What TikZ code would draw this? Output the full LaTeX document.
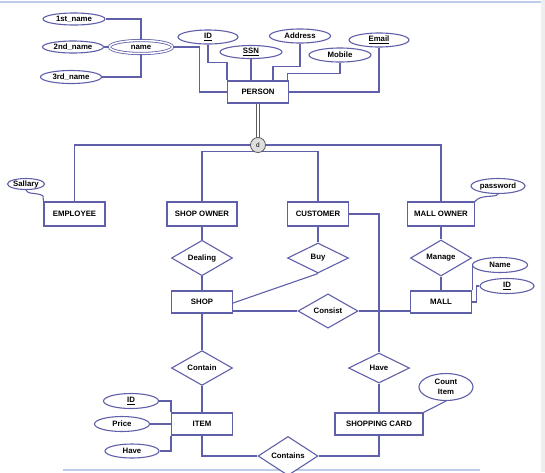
\documentclass[tikz,border=0pt]{standalone}
\usepackage{fontspec}
\setmainfont{Liberation Sans}
\usetikzlibrary{shapes.geometric}
\definecolor{lc}{RGB}{96,96,170}
\definecolor{frameblue}{RGB}{190,204,236}
\definecolor{bandgray}{RGB}{238,238,238}
\definecolor{dgray}{RGB}{90,90,90}
\definecolor{cfill}{RGB}{222,222,222}
\tikzset{
  every node/.style={font=\fontsize{7.8}{9}\selectfont\bfseries, text=black},
  ln/.style={draw=lc, line width=1.1pt},
  gln/.style={draw=dgray, line width=0.7pt},
  ent/.style={rectangle, draw=lc, fill=white, line width=1.1pt, inner sep=0pt, minimum height=22pt},
  attr/.style={ellipse, draw=lc, fill=white, line width=1.1pt, inner sep=0pt, minimum height=14pt},
  rel/.style={diamond, draw=lc, fill=white, line width=1.1pt, inner sep=0pt, minimum width=61pt, minimum height=30pt},
  dcirc/.style={circle, draw=dgray, fill=cfill, line width=0.8pt, inner sep=0pt, minimum size=15pt, font=\fontsize{6.5}{7}\selectfont},
}
\begin{document}
\begin{tikzpicture}[x=1pt,y=-1pt]
\useasboundingbox (0,0) rectangle (545,472);
\fill[white] (0,0) rectangle (545,472);
\fill[bandgray] (541,0) rectangle (545,472);
\draw[frameblue, line width=1.2pt] (0,2) -- (541,2);
\draw[frameblue, line width=1.5pt] (63,470) -- (480,470);

% PERSON and its attributes
\node[attr, minimum width=62pt, minimum height=12pt] (n1) at (74,19) {1st\_name};
\node[attr, minimum width=61pt, minimum height=12pt] (n2) at (73,47) {2nd\_name};
\node[attr, minimum width=61pt, minimum height=13pt] (n3) at (71,77) {3rd\_name};
\node[attr, minimum width=63pt, minimum height=13pt, double=white, double distance=1.5pt, line width=0.8pt] (nm) at (141,47) {name};
\node[attr, minimum width=60pt] (pid) at (208,37) {\underline{ID}};
\node[attr, minimum width=62pt, minimum height=13pt] (ssn) at (251,52) {\underline{SSN}};
\node[attr, minimum width=61pt] (addr) at (300,36) {Address};
\node[attr, minimum width=62pt] (mob) at (340,55) {Mobile};
\node[attr, minimum width=60pt] (email) at (379,40) {\underline{Email}};
\node[ent, minimum width=61pt] (person) at (258,92) {PERSON};

\draw[ln] (n1.east) -| (nm.north);
\draw[ln] (n3.east) -| (nm.south);
\draw[ln] (n2.east) -- (nm.west);
\draw[ln] (nm.east) -- ++(27,0) |- (person.west);
\draw[ln] (pid.south) |- ([yshift=18pt]person.north west) -- (person.north west);
\draw[ln] (ssn.south) -- (ssn.south |- person.north);
\draw[ln] (addr.south) |- ([xshift=15pt,yshift=14pt]person.north) -- ([xshift=15pt]person.north);
\draw[ln] (mob.south) |- ([xshift=-1.5pt,yshift=7pt]person.north east) -- ([xshift=-1.5pt]person.north east);
\draw[ln] (email.south) |- (person.east);

% specialisation
\node[ent, minimum width=61pt, minimum height=24pt] (emp) at (74.5,214) {EMPLOYEE};
\node[ent, minimum width=70pt, minimum height=24pt] (so) at (202,214) {SHOP OWNER};
\node[ent, minimum width=61pt, minimum height=24pt] (cu) at (318,214) {CUSTOMER};
\node[ent, minimum width=67pt, minimum height=24pt] (mo) at (441,214) {MALL OWNER};
\coordinate (dcc) at (258,145);

\draw[ln] (emp.north) |- (dcc);
\draw[ln] (dcc) -| (mo.north);
\draw[ln] (so.north) |- ([yshift=50pt]cu.north) -- (cu.north);
\draw[gln] ([xshift=-1.2pt]person.south) -- ([xshift=-1.2pt]dcc);
\draw[gln] ([xshift=1.2pt]person.south) -- ([xshift=1.2pt]dcc);
\node[dcirc] (dc) at (dcc) {d};

\node[attr, minimum width=37pt, minimum height=11pt] (sal) at (26,184) {Sallary};
\node[attr, minimum width=54pt, minimum height=15pt] (pw) at (498,186) {password};
\draw[ln] (sal.south) .. controls (27,195) and (38,192) .. (43,196) -- (emp.north west);
\draw[ln] (pw.south) .. controls (496,198) and (480,194) .. (mo.north east);

% relationships
\node[rel] (deal) at (202,258) {Dealing};
\node[rel] (buy) at (318,258) {Buy};
\node[rel] (man) at (441,258) {Manage};
\node[ent, minimum width=61pt] (shop) at (202,302) {SHOP};
\node[ent, minimum width=61pt] (mall) at (441,302) {MALL};
\node[rel, minimum width=60pt] (cons) at (328,311) {Consist};
\node[attr, minimum width=55pt, minimum height=15pt] (mname) at (500,265) {Name};
\node[attr, minimum width=54pt, minimum height=15pt] (mid) at (507,286) {\underline{ID}};

\draw[ln] (so.south) -- (deal.north);
\draw[ln] (deal.south) -- (shop.north);
\draw[ln] (cu.south) -- (buy.north);
\draw[ln] (buy.south) -- ([yshift=-1pt]shop.east);
\draw[ln] (mo.south) -- (man.north);
\draw[ln] (man.south) -- (mall.north);
\draw[ln] (shop.east |- cons.west) -- (cons.west);
\draw[ln] (cons.east) -- (mall.west |- cons.east);
\draw[ln] (mname.west) -| (mall.north east);
\draw[ln] (mid.west) -- ++(-3,0) |- (mall.east);

% lower part
\node[rel] (contain) at (202,368) {Contain};
\node[rel] (have) at (379,368) {Have};
\node[ent, minimum width=61pt] (item) at (202,424) {ITEM};
\node[ent, minimum width=88pt] (sc) at (379,424) {SHOPPING CARD};
\node[attr, minimum width=54pt, minimum height=27pt, align=center, font=\fontsize{7.8}{10}\selectfont\bfseries] (ci) at (446,387) {Count\\Item};
\node[attr, minimum width=55pt, minimum height=15pt] (iid) at (131,401) {\underline{ID}};
\node[attr, minimum width=55pt, minimum height=15pt] (price) at (122,424) {Price};
\node[attr, minimum width=54pt, minimum height=14pt] (ihave) at (132,451) {Have};
\node[rel, minimum width=60pt, minimum height=31pt] (conts) at (288,456) {Contains};

\draw[ln] (cu.east) -| (have.north);
\draw[ln] (have.south) -- (sc.north);
\draw[ln] (shop.south) -- (contain.north);
\draw[ln] (contain.south) -- (item.north);
\draw[ln] (iid.east) -| (item.north west);
\draw[ln] (ihave.east) -| (item.south west);
\draw[ln] (price.east) -- (item.west);
\draw[ln] (item.south) |- (conts.west);
\draw[ln] (conts.east) -| (sc.south);
\draw[ln] (ci.south) -- (sc.north east);
\end{tikzpicture}
\end{document}
